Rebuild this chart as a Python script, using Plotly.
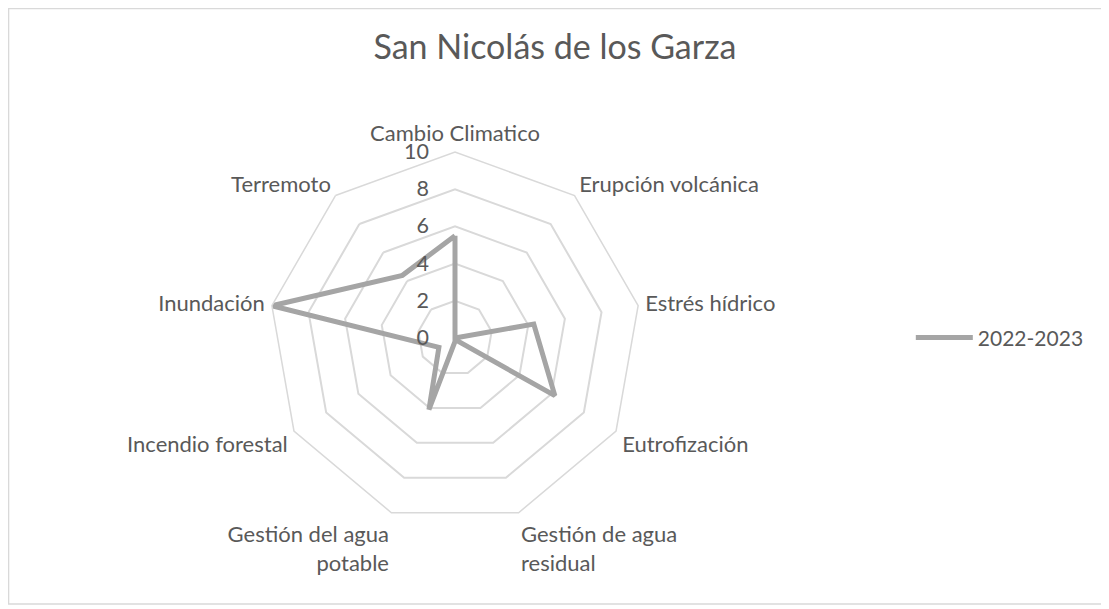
import plotly.graph_objects as go

# categories (clockwise from the top) and values for the one series
categorias = ['Cambio Climatico', 'Erupción volcánica', 'Estrés hídrico', 'Eutrofización',
              'Gestión de agua<br>residual', 'Gestión del agua<br>potable', 'Incendio forestal',
              'Inundación', 'Terremoto']
valores_2022_2023 = [5.5, 0, 4.3, 6.2, 0.1, 4.1, 1.0, 10, 4.4]
serie = '2022-2023'
titulo = 'San Nicolás de los Garza'

gris_texto = '#595959'
gris_rejilla = '#d9d9d9'
fuente = 'Lato, Calibri, Arial'

# the page body has an 8px margin, so the figure is a bit smaller than the window
W, H = 1101, 601

fig = go.Figure()

# close the polygon by repeating the first point
fig.add_trace(go.Scatterpolar(
    r=valores_2022_2023 + valores_2022_2023[:1],
    theta=categorias + categorias[:1],
    mode='lines',
    name=serie,
    line=dict(color='#a5a5a5', width=5),
))

fig.update_layout(
    width=W, height=H,
    margin=dict(l=0, r=0, t=0, b=0),
    paper_bgcolor='white',
    plot_bgcolor='white',
    font=dict(family=fuente, color=gris_texto, size=22),
    title=dict(text=titulo, x=0.4968, xanchor='center', y=0.935, yanchor='middle',
               font=dict(size=34, color=gris_texto, family=fuente)),
    showlegend=True,
    legend=dict(x=0.820, y=0.451, xanchor='left', yanchor='middle',
                font=dict(size=21, color=gris_texto), itemwidth=57),
    polar=dict(
        domain=dict(x=[0.2371, 0.5749], y=[0.1414, 0.7604]),
        bgcolor='white',
        gridshape='linear',
        radialaxis=dict(range=[0, 10], dtick=2, angle=90, side='counterclockwise',
                        tickangle=90, showline=False,
                        ticks='outside', ticklen=18, tickcolor='rgba(0,0,0,0)',
                        gridcolor=gris_rejilla, gridwidth=1.5,
                        tickfont=dict(size=21.5, color=gris_texto)),
        angularaxis=dict(direction='clockwise', rotation=90, showgrid=False,
                         linecolor=gris_rejilla, linewidth=1.5,
                         ticks='outside', ticklen=2, tickcolor='rgba(0,0,0,0)',
                         tickfont=dict(size=22, color=gris_texto)),
    ),
    shapes=[dict(type='rect', xref='paper', yref='paper', x0=0.0005, x1=0.9973,
                 y0=0.0083, y1=0.999, line=dict(color=gris_rejilla, width=1.5))],
)

fig.write_html('out.html')
